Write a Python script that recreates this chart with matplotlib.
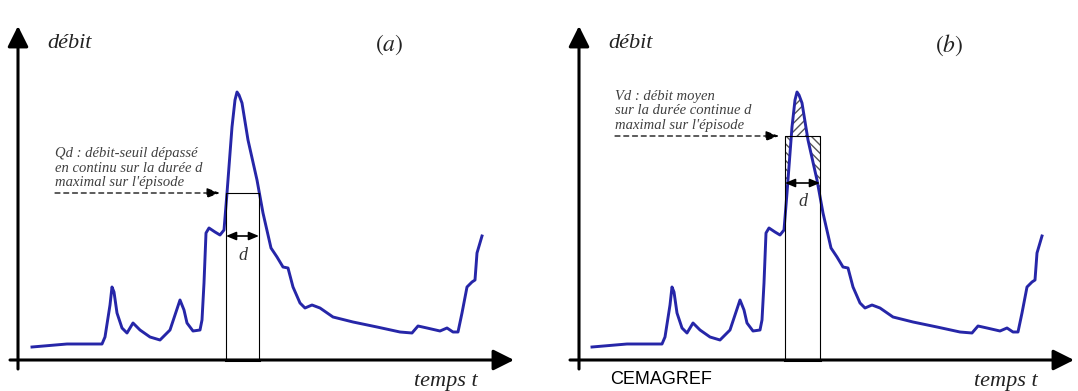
import numpy as np
import matplotlib
matplotlib.use('Agg')
import matplotlib.pyplot as plt

plt.rcParams['mathtext.fontset'] = 'stix'

# hydrograph (time, flow) - same episode in both panels
temps = [32, 67, 102, 105, 110, 112, 114, 117, 122, 127, 133, 140, 150, 160, 170,
         176, 180, 184, 187, 193, 200, 202, 204, 206, 209, 215, 220, 224, 227,
         232, 235, 237, 239, 242, 248, 257, 263, 271, 277, 283, 288, 293, 300,
         305, 312, 320, 333, 353, 377, 400, 412, 418, 427, 440, 447, 453, 458,
         462, 467, 472, 475, 477, 482]
debit = [13, 16, 16, 23, 55, 73, 68, 47, 32, 27, 37, 30, 23, 20, 30,
         48, 60, 50, 37, 29, 30, 40, 77, 127, 132, 128, 125, 130, 167,
         233, 260, 268, 265, 257, 220, 180, 147, 112, 103, 93, 92, 73, 57,
         52, 55, 52, 43, 38, 33, 28, 27, 34, 32, 29, 32, 28, 28,
         47, 73, 78, 80, 107, 124]

# panel (a): threshold flow exceeded continuously over d
qd = 167
t_a = [226, 259]
# panel (b): mean flow over d
vd = 224
t_b = [225, 260]

txt_a = "Qd : débit-seuil dépassé\nen continu sur la durée d\nmaximal sur l'épisode"
txt_b = "Vd : débit moyen\nsur la durée continue d\nmaximal sur l'épisode"

W, H = 1078, 391
fig = plt.figure(figsize=(W / 100, H / 100), dpi=100)
ax_a = fig.add_axes([0, 0, 540 / W, 1])
ax_b = fig.add_axes([560 / W, 0, 518 / W, 1])

curve_col = '#2626a8'
txt_col = '#404040'
serif = ['Liberation Serif', 'DejaVu Serif']


def draw_frame(ax, x0, label):
    ax.set_xlim(0, ax.get_position().width * W)
    ax.set_ylim(-31, 360)
    ax.axis('off')
    arrow = dict(arrowstyle='-|>,head_length=0.9,head_width=0.45', lw=2.2,
                 color='k', mutation_scale=14, shrinkA=0, shrinkB=0)
    ax.annotate('', xy=(x0, 334), xytext=(x0, -9), arrowprops=arrow)
    ax.annotate('', xy=(514, 0), xytext=(10, 0), arrowprops=arrow)
    ax.text(x0 + 29, 317, 'débit', fontsize=16, style='italic', family=serif,
            va='center', color='#222222')
    ax.text(389, 315, label, fontsize=17, va='center', ha='center', color='#222222')
    ax.text(414, -12, 'temps t', fontsize=16, style='italic', family=serif,
            va='top', color='#222222')


def draw_box(ax, t, q, d_y, txt, txt_y):
    ax.plot([t[0], t[0], t[1], t[1]], [0, q, q, 0], color='k', lw=0.8)
    ax.plot(t, [0, 0], color='k', lw=2.2)
    ax.annotate('', xy=(t[0], d_y), xytext=(t[1], d_y),
                arrowprops=dict(arrowstyle='<|-|>,head_length=0.6,head_width=0.25',
                                lw=1.2, color='k', mutation_scale=10,
                                shrinkA=0, shrinkB=0))
    ax.text(sum(t) / 2, d_y - 19, 'd', fontsize=13, style='italic', family=serif,
            ha='center', va='center', color='#333333')
    ax.annotate('', xy=(t[0] - 6, q), xytext=(55, q),
                arrowprops=dict(arrowstyle='-|>,head_length=0.8,head_width=0.3',
                                lw=0.9, ls=(0, (4, 3)), color='k',
                                mutation_scale=10, shrinkA=0, shrinkB=0))
    ax.text(55, txt_y, txt, fontsize=10.5, style='italic', family=serif,
            va='bottom', color=txt_col, linespacing=1.15)


# panel (a)
draw_frame(ax_a, 18, r'$(a)$')
ax_a.plot(temps, debit, color=curve_col, lw=2.1, solid_joinstyle='round')
draw_box(ax_a, t_a, qd, 124, txt_a, qd + 4)

# panel (b)
draw_frame(ax_b, 19, r'$(b)$')
tt = np.array(temps, dtype=float)
qq = np.array(debit, dtype=float)
inside = (tt > t_b[0]) & (tt < t_b[1])
t_sub = np.concatenate([[t_b[0]], tt[inside], [t_b[1]]])
q_sub = np.concatenate([[np.interp(t_b[0], tt, qq)], qq[inside],
                        [np.interp(t_b[1], tt, qq)]])
ax_b.fill_between(t_sub, q_sub, vd, where=q_sub >= vd, interpolate=True,
                  facecolor='none', edgecolor='#555555', hatch='////', lw=0)
ax_b.fill_between(t_sub, q_sub, vd, where=q_sub <= vd, interpolate=True,
                  facecolor='none', edgecolor='#555555', hatch='\\\\\\\\', lw=0)
ax_b.plot(temps, debit, color=curve_col, lw=2.1, solid_joinstyle='round')
draw_box(ax_b, t_b, vd, 177, txt_b, vd + 4)

fig.text(610 / W, 1 - 380 / H, 'CEMAGREF', fontsize=13, family='Liberation Sans',
         va='center', color='k')

fig.savefig('out.png', dpi=100)
